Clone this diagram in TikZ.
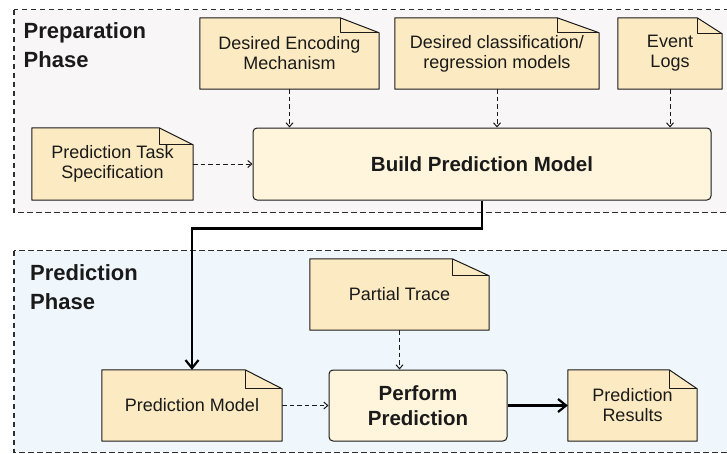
\documentclass[tikz,border=0pt]{standalone}
\usepackage{fontspec}
\setmainfont{Liberation Sans}
\usetikzlibrary{arrows.meta}
\pgfdeclarelayer{frames}
\pgfdeclarelayer{docs}
\pgfsetlayers{frames,docs,main}
\definecolor{docfill}{HTML}{FCEBC2}
\definecolor{procfill}{HTML}{FEF5DC}
\definecolor{prepbg}{HTML}{F9F6F8}
\definecolor{predbg}{HTML}{F0F7FC}
\definecolor{ink}{HTML}{1A1A1A}
\definecolor{framecol}{HTML}{2E2E2E}
\tikzset{
  docline/.style={draw=ink, fill=docfill, line width=1pt, line join=round},
  doctext/.style={inner sep=0pt, align=center, font=\fontsize{18}{20}\selectfont, text=ink},
  procbox/.style={draw=ink, fill=procfill, line width=1pt, rounded corners=4pt, inner sep=0pt,
    align=center, font=\fontsize{20.5}{25}\selectfont\bfseries, text=ink},
  phasetitle/.style={anchor=north west, inner sep=0pt, align=left,
    font=\fontsize{22}{29}\selectfont\bfseries, text=ink},
  dasharrow/.style={draw=ink, line width=1pt, dash pattern=on 4.5pt off 3pt,
    -{Straight Barb[length=4pt,width=7pt]}},
  thickarrow/.style={draw=black, line width=2.2pt, -{Straight Barb[length=8pt,width=13pt]}},
  phaseframe/.style={draw=framecol, line width=1.2pt, dash pattern=on 5.5pt off 3.5pt},
}
\newcommand{\mydoc}[3]{%
  \filldraw[docline] (#1.north west) -- ([xshift=-#2]#1.north east) -- ([yshift=-#3]#1.north east)
    -- (#1.south east) -- (#1.south west) -- cycle;
  \draw[docline, fill=none] ([xshift=-#2]#1.north east) |- ([yshift=-#3]#1.north east);
}
\begin{document}
\begin{tikzpicture}[x=1pt, y=-1pt]
\useasboundingbox (0,0) rectangle (727,453);
\begin{pgfonlayer}{frames}
  \path[phaseframe, fill=prepbg] (14,9.5) rectangle (740,212.5);
  \path[phaseframe, fill=predbg] (14,250.5) rectangle (740,452.3);
\end{pgfonlayer}

\node[phasetitle] (preptitle) at (23.5,22) {Preparation\\Phase};
\node[phasetitle] (predtitle) at (30,264) {Prediction\\Phase};

% preparation phase
\node[doctext, minimum width=179pt, minimum height=71pt] (enc) at (289.5,53.5) {Desired Encoding\\Mechanism};
\node[doctext, minimum width=204pt, minimum height=71pt] (cls) at (497,53.5) {Desired classification/\\regression models};
\node[doctext, minimum width=104pt, minimum height=71pt] (logs) at (670,53.5) {Event\\Logs};
\node[doctext, minimum width=161pt, minimum height=72pt] (task) at (112.5,164) {Prediction Task\\Specification};
\node[procbox, minimum width=458pt, minimum height=72pt] (build) at (482,164) {Build Prediction Model};

% prediction phase
\node[doctext, minimum width=179pt, minimum height=71pt] (trace) at (399.5,294.5) {Partial Trace};
\node[doctext, minimum width=180pt, minimum height=71pt] (model) at (192,405.5) {Prediction Model};
\node[procbox, minimum width=178pt, minimum height=71pt] (perform) at (418,405.5) {Perform\\Prediction};
\node[doctext, minimum width=129pt, minimum height=71pt] (results) at (632.5,405.5) {Prediction\\Results};

\begin{pgfonlayer}{docs}
  \mydoc{enc}{39pt}{15pt}
  \mydoc{cls}{42pt}{15pt}
  \mydoc{logs}{25pt}{16pt}
  \mydoc{task}{34pt}{17pt}
  \mydoc{trace}{37pt}{17pt}
  \mydoc{model}{37pt}{19pt}
  \mydoc{results}{28pt}{19pt}
\end{pgfonlayer}

% connectors
\draw[dasharrow] (enc.south) -- (enc.south |- build.north);
\draw[dasharrow] (cls.south) -- (cls.south |- build.north);
\draw[dasharrow] (logs.south) -- (logs.south |- build.north);
\draw[dasharrow] (task.east) -- (task.east -| build.west);
\draw[thickarrow] (build.south) -- ++(0,28) -| (model.north);
\draw[dasharrow] (trace.south) -- (trace.south |- perform.north);
\draw[dasharrow] (model.east) -- (perform.west);
\draw[thickarrow] (perform.east) -- (results.west);
\end{tikzpicture}
\end{document}
